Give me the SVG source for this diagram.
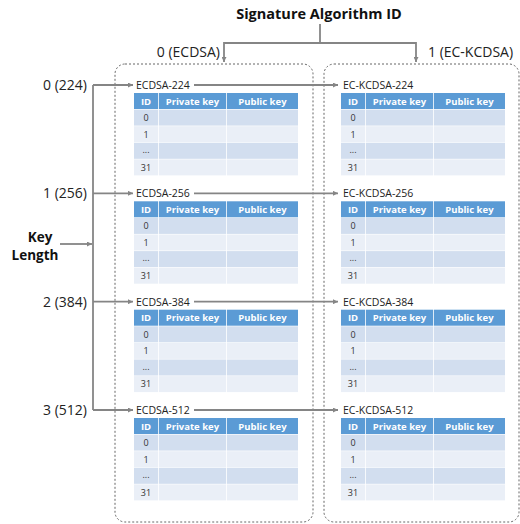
<svg xmlns="http://www.w3.org/2000/svg" width="520" height="524" viewBox="0 0 520 524">
  <style>
    text { font-family: "Open Sans", "Noto Sans", "Liberation Sans", sans-serif; }
    .title { font-size: 14.5px; font-weight: bold; fill: #111; }
    .lbl { font-size: 14px; fill: #222; }
    .klbl { font-size: 13.5px; font-weight: bold; fill: #111; text-anchor: middle; }
    .name { font-size: 10.5px; fill: #222; }
    .box { fill: none; stroke: #666; stroke-width: 1; stroke-dasharray: 2 2; }
    .hd { fill: #5B9BD5; }
    .r1 { fill: #D2DEEF; }
    .r2 { fill: #EAEFF7; }
    .ht { font-size: 9.5px; font-weight: bold; fill: #fff; text-anchor: middle; }
    .ct { font-size: 9px; fill: #333; text-anchor: middle; }
    .conn { fill: none; stroke: #858585; stroke-width: 1.8; }
  </style>
  <defs>
    <marker id="arr" viewBox="0 0 6 6" refX="6" refY="3" markerWidth="5" markerHeight="5" markerUnits="userSpaceOnUse" orient="auto">
      <path d="M0,0 L6,3 L0,6 z" fill="#858585"/>
    </marker>
  </defs>

  <rect width="520" height="524" fill="#fff"/>

  <!-- dashed algorithm containers -->
  <g id="box-ecdsa"><rect class="box" x="115" y="64" width="198" height="458" rx="10"/></g>
  <g id="box-eckcdsa"><rect class="box" x="324" y="64" width="195" height="458" rx="10"/></g>

  <!-- headings -->
  <g id="title"><text class="title" x="319" y="19" text-anchor="middle">Signature Algorithm ID</text></g>
  <g id="alg-0"><text class="lbl" x="220" y="57" text-anchor="end">0 (ECDSA)</text></g>
  <g id="alg-1"><text class="lbl" x="428" y="57">1 (EC-KCDSA)</text></g>

  <g id="key-length">
    <text class="klbl" x="40" y="242">Key</text>
    <text class="klbl" x="35" y="260">Length</text>
  </g>
  <g id="len-0"><text class="lbl" x="87" y="90" text-anchor="end">0 (224)</text></g>
  <g id="len-1"><text class="lbl" x="87" y="198" text-anchor="end">1 (256)</text></g>
  <g id="len-2"><text class="lbl" x="87" y="307" text-anchor="end">2 (384)</text></g>
  <g id="len-3"><text class="lbl" x="87" y="415" text-anchor="end">3 (512)</text></g>

  <!-- connectors -->
  <g id="connectors">
    <path class="conn" d="M320 24 V43"/>
    <path class="conn" d="M320 43 H224 V62" marker-end="url(#arr)"/>
    <path class="conn" d="M320 43 H416 V62" marker-end="url(#arr)"/>
    <path class="conn" d="M93 85 V410"/>
    <path class="conn" d="M60 244 H92" marker-end="url(#arr)"/>
    <path class="conn" d="M93 85 H133" marker-end="url(#arr)"/>
    <path class="conn" d="M93 193.3 H133" marker-end="url(#arr)"/>
    <path class="conn" d="M93 301.7 H133" marker-end="url(#arr)"/>
    <path class="conn" d="M93 410 H133" marker-end="url(#arr)"/>
    <path class="conn" d="M194 85 H338" marker-end="url(#arr)"/>
    <path class="conn" d="M194 193.3 H338" marker-end="url(#arr)"/>
    <path class="conn" d="M194 301.7 H338" marker-end="url(#arr)"/>
    <path class="conn" d="M194 410 H338" marker-end="url(#arr)"/>
  </g>

  <!-- key tables: ECDSA column -->
  <g id="ecdsa-224" transform="translate(134,93)">
    <text class="name" x="2" y="-4">ECDSA-224</text>
    <rect class="hd" x="0" y="0" width="24" height="16"/><rect class="hd" x="24.8" y="0" width="67.2" height="16"/><rect class="hd" x="92.8" y="0" width="71.2" height="16"/>
    <text class="ht" x="12" y="11.5">ID</text><text class="ht" x="58.4" y="11.5">Private key</text><text class="ht" x="128.4" y="11.5">Public key</text>
    <rect class="r1" x="0" y="16.6" width="24" height="16"/><rect class="r1" x="24.8" y="16.6" width="67.2" height="16"/><rect class="r1" x="92.8" y="16.6" width="71.2" height="16"/>
    <rect class="r2" x="0" y="33.2" width="24" height="16"/><rect class="r2" x="24.8" y="33.2" width="67.2" height="16"/><rect class="r2" x="92.8" y="33.2" width="71.2" height="16"/>
    <rect class="r1" x="0" y="49.8" width="24" height="16"/><rect class="r1" x="24.8" y="49.8" width="67.2" height="16"/><rect class="r1" x="92.8" y="49.8" width="71.2" height="16"/>
    <rect class="r2" x="0" y="66.4" width="24" height="16"/><rect class="r2" x="24.8" y="66.4" width="67.2" height="16"/><rect class="r2" x="92.8" y="66.4" width="71.2" height="16"/>
    <text class="ct" x="12" y="28">0</text><text class="ct" x="12" y="44.6">1</text><text class="ct" x="12" y="60">...</text><text class="ct" x="12" y="77.8">31</text>
  </g>
  <g id="ecdsa-256" transform="translate(134,201.3)">
    <text class="name" x="2" y="-4">ECDSA-256</text>
    <rect class="hd" x="0" y="0" width="24" height="16"/><rect class="hd" x="24.8" y="0" width="67.2" height="16"/><rect class="hd" x="92.8" y="0" width="71.2" height="16"/>
    <text class="ht" x="12" y="11.5">ID</text><text class="ht" x="58.4" y="11.5">Private key</text><text class="ht" x="128.4" y="11.5">Public key</text>
    <rect class="r1" x="0" y="16.6" width="24" height="16"/><rect class="r1" x="24.8" y="16.6" width="67.2" height="16"/><rect class="r1" x="92.8" y="16.6" width="71.2" height="16"/>
    <rect class="r2" x="0" y="33.2" width="24" height="16"/><rect class="r2" x="24.8" y="33.2" width="67.2" height="16"/><rect class="r2" x="92.8" y="33.2" width="71.2" height="16"/>
    <rect class="r1" x="0" y="49.8" width="24" height="16"/><rect class="r1" x="24.8" y="49.8" width="67.2" height="16"/><rect class="r1" x="92.8" y="49.8" width="71.2" height="16"/>
    <rect class="r2" x="0" y="66.4" width="24" height="16"/><rect class="r2" x="24.8" y="66.4" width="67.2" height="16"/><rect class="r2" x="92.8" y="66.4" width="71.2" height="16"/>
    <text class="ct" x="12" y="28">0</text><text class="ct" x="12" y="44.6">1</text><text class="ct" x="12" y="60">...</text><text class="ct" x="12" y="77.8">31</text>
  </g>
  <g id="ecdsa-384" transform="translate(134,309.7)">
    <text class="name" x="2" y="-4">ECDSA-384</text>
    <rect class="hd" x="0" y="0" width="24" height="16"/><rect class="hd" x="24.8" y="0" width="67.2" height="16"/><rect class="hd" x="92.8" y="0" width="71.2" height="16"/>
    <text class="ht" x="12" y="11.5">ID</text><text class="ht" x="58.4" y="11.5">Private key</text><text class="ht" x="128.4" y="11.5">Public key</text>
    <rect class="r1" x="0" y="16.6" width="24" height="16"/><rect class="r1" x="24.8" y="16.6" width="67.2" height="16"/><rect class="r1" x="92.8" y="16.6" width="71.2" height="16"/>
    <rect class="r2" x="0" y="33.2" width="24" height="16"/><rect class="r2" x="24.8" y="33.2" width="67.2" height="16"/><rect class="r2" x="92.8" y="33.2" width="71.2" height="16"/>
    <rect class="r1" x="0" y="49.8" width="24" height="16"/><rect class="r1" x="24.8" y="49.8" width="67.2" height="16"/><rect class="r1" x="92.8" y="49.8" width="71.2" height="16"/>
    <rect class="r2" x="0" y="66.4" width="24" height="16"/><rect class="r2" x="24.8" y="66.4" width="67.2" height="16"/><rect class="r2" x="92.8" y="66.4" width="71.2" height="16"/>
    <text class="ct" x="12" y="28">0</text><text class="ct" x="12" y="44.6">1</text><text class="ct" x="12" y="60">...</text><text class="ct" x="12" y="77.8">31</text>
  </g>
  <g id="ecdsa-512" transform="translate(134,418)">
    <text class="name" x="2" y="-4">ECDSA-512</text>
    <rect class="hd" x="0" y="0" width="24" height="16"/><rect class="hd" x="24.8" y="0" width="67.2" height="16"/><rect class="hd" x="92.8" y="0" width="71.2" height="16"/>
    <text class="ht" x="12" y="11.5">ID</text><text class="ht" x="58.4" y="11.5">Private key</text><text class="ht" x="128.4" y="11.5">Public key</text>
    <rect class="r1" x="0" y="16.6" width="24" height="16"/><rect class="r1" x="24.8" y="16.6" width="67.2" height="16"/><rect class="r1" x="92.8" y="16.6" width="71.2" height="16"/>
    <rect class="r2" x="0" y="33.2" width="24" height="16"/><rect class="r2" x="24.8" y="33.2" width="67.2" height="16"/><rect class="r2" x="92.8" y="33.2" width="71.2" height="16"/>
    <rect class="r1" x="0" y="49.8" width="24" height="16"/><rect class="r1" x="24.8" y="49.8" width="67.2" height="16"/><rect class="r1" x="92.8" y="49.8" width="71.2" height="16"/>
    <rect class="r2" x="0" y="66.4" width="24" height="16"/><rect class="r2" x="24.8" y="66.4" width="67.2" height="16"/><rect class="r2" x="92.8" y="66.4" width="71.2" height="16"/>
    <text class="ct" x="12" y="28">0</text><text class="ct" x="12" y="44.6">1</text><text class="ct" x="12" y="60">...</text><text class="ct" x="12" y="77.8">31</text>
  </g>

  <!-- key tables: EC-KCDSA column -->
  <g id="eckcdsa-224" transform="translate(341,93)">
    <text class="name" x="2" y="-4">EC-KCDSA-224</text>
    <rect class="hd" x="0" y="0" width="24" height="16"/><rect class="hd" x="24.8" y="0" width="67.2" height="16"/><rect class="hd" x="92.8" y="0" width="71.2" height="16"/>
    <text class="ht" x="12" y="11.5">ID</text><text class="ht" x="58.4" y="11.5">Private key</text><text class="ht" x="128.4" y="11.5">Public key</text>
    <rect class="r1" x="0" y="16.6" width="24" height="16"/><rect class="r1" x="24.8" y="16.6" width="67.2" height="16"/><rect class="r1" x="92.8" y="16.6" width="71.2" height="16"/>
    <rect class="r2" x="0" y="33.2" width="24" height="16"/><rect class="r2" x="24.8" y="33.2" width="67.2" height="16"/><rect class="r2" x="92.8" y="33.2" width="71.2" height="16"/>
    <rect class="r1" x="0" y="49.8" width="24" height="16"/><rect class="r1" x="24.8" y="49.8" width="67.2" height="16"/><rect class="r1" x="92.8" y="49.8" width="71.2" height="16"/>
    <rect class="r2" x="0" y="66.4" width="24" height="16"/><rect class="r2" x="24.8" y="66.4" width="67.2" height="16"/><rect class="r2" x="92.8" y="66.4" width="71.2" height="16"/>
    <text class="ct" x="12" y="28">0</text><text class="ct" x="12" y="44.6">1</text><text class="ct" x="12" y="60">...</text><text class="ct" x="12" y="77.8">31</text>
  </g>
  <g id="eckcdsa-256" transform="translate(341,201.3)">
    <text class="name" x="2" y="-4">EC-KCDSA-256</text>
    <rect class="hd" x="0" y="0" width="24" height="16"/><rect class="hd" x="24.8" y="0" width="67.2" height="16"/><rect class="hd" x="92.8" y="0" width="71.2" height="16"/>
    <text class="ht" x="12" y="11.5">ID</text><text class="ht" x="58.4" y="11.5">Private key</text><text class="ht" x="128.4" y="11.5">Public key</text>
    <rect class="r1" x="0" y="16.6" width="24" height="16"/><rect class="r1" x="24.8" y="16.6" width="67.2" height="16"/><rect class="r1" x="92.8" y="16.6" width="71.2" height="16"/>
    <rect class="r2" x="0" y="33.2" width="24" height="16"/><rect class="r2" x="24.8" y="33.2" width="67.2" height="16"/><rect class="r2" x="92.8" y="33.2" width="71.2" height="16"/>
    <rect class="r1" x="0" y="49.8" width="24" height="16"/><rect class="r1" x="24.8" y="49.8" width="67.2" height="16"/><rect class="r1" x="92.8" y="49.8" width="71.2" height="16"/>
    <rect class="r2" x="0" y="66.4" width="24" height="16"/><rect class="r2" x="24.8" y="66.4" width="67.2" height="16"/><rect class="r2" x="92.8" y="66.4" width="71.2" height="16"/>
    <text class="ct" x="12" y="28">0</text><text class="ct" x="12" y="44.6">1</text><text class="ct" x="12" y="60">...</text><text class="ct" x="12" y="77.8">31</text>
  </g>
  <g id="eckcdsa-384" transform="translate(341,309.7)">
    <text class="name" x="2" y="-4">EC-KCDSA-384</text>
    <rect class="hd" x="0" y="0" width="24" height="16"/><rect class="hd" x="24.8" y="0" width="67.2" height="16"/><rect class="hd" x="92.8" y="0" width="71.2" height="16"/>
    <text class="ht" x="12" y="11.5">ID</text><text class="ht" x="58.4" y="11.5">Private key</text><text class="ht" x="128.4" y="11.5">Public key</text>
    <rect class="r1" x="0" y="16.6" width="24" height="16"/><rect class="r1" x="24.8" y="16.6" width="67.2" height="16"/><rect class="r1" x="92.8" y="16.6" width="71.2" height="16"/>
    <rect class="r2" x="0" y="33.2" width="24" height="16"/><rect class="r2" x="24.8" y="33.2" width="67.2" height="16"/><rect class="r2" x="92.8" y="33.2" width="71.2" height="16"/>
    <rect class="r1" x="0" y="49.8" width="24" height="16"/><rect class="r1" x="24.8" y="49.8" width="67.2" height="16"/><rect class="r1" x="92.8" y="49.8" width="71.2" height="16"/>
    <rect class="r2" x="0" y="66.4" width="24" height="16"/><rect class="r2" x="24.8" y="66.4" width="67.2" height="16"/><rect class="r2" x="92.8" y="66.4" width="71.2" height="16"/>
    <text class="ct" x="12" y="28">0</text><text class="ct" x="12" y="44.6">1</text><text class="ct" x="12" y="60">...</text><text class="ct" x="12" y="77.8">31</text>
  </g>
  <g id="eckcdsa-512" transform="translate(341,418)">
    <text class="name" x="2" y="-4">EC-KCDSA-512</text>
    <rect class="hd" x="0" y="0" width="24" height="16"/><rect class="hd" x="24.8" y="0" width="67.2" height="16"/><rect class="hd" x="92.8" y="0" width="71.2" height="16"/>
    <text class="ht" x="12" y="11.5">ID</text><text class="ht" x="58.4" y="11.5">Private key</text><text class="ht" x="128.4" y="11.5">Public key</text>
    <rect class="r1" x="0" y="16.6" width="24" height="16"/><rect class="r1" x="24.8" y="16.6" width="67.2" height="16"/><rect class="r1" x="92.8" y="16.6" width="71.2" height="16"/>
    <rect class="r2" x="0" y="33.2" width="24" height="16"/><rect class="r2" x="24.8" y="33.2" width="67.2" height="16"/><rect class="r2" x="92.8" y="33.2" width="71.2" height="16"/>
    <rect class="r1" x="0" y="49.8" width="24" height="16"/><rect class="r1" x="24.8" y="49.8" width="67.2" height="16"/><rect class="r1" x="92.8" y="49.8" width="71.2" height="16"/>
    <rect class="r2" x="0" y="66.4" width="24" height="16"/><rect class="r2" x="24.8" y="66.4" width="67.2" height="16"/><rect class="r2" x="92.8" y="66.4" width="71.2" height="16"/>
    <text class="ct" x="12" y="28">0</text><text class="ct" x="12" y="44.6">1</text><text class="ct" x="12" y="60">...</text><text class="ct" x="12" y="77.8">31</text>
  </g>
</svg>
